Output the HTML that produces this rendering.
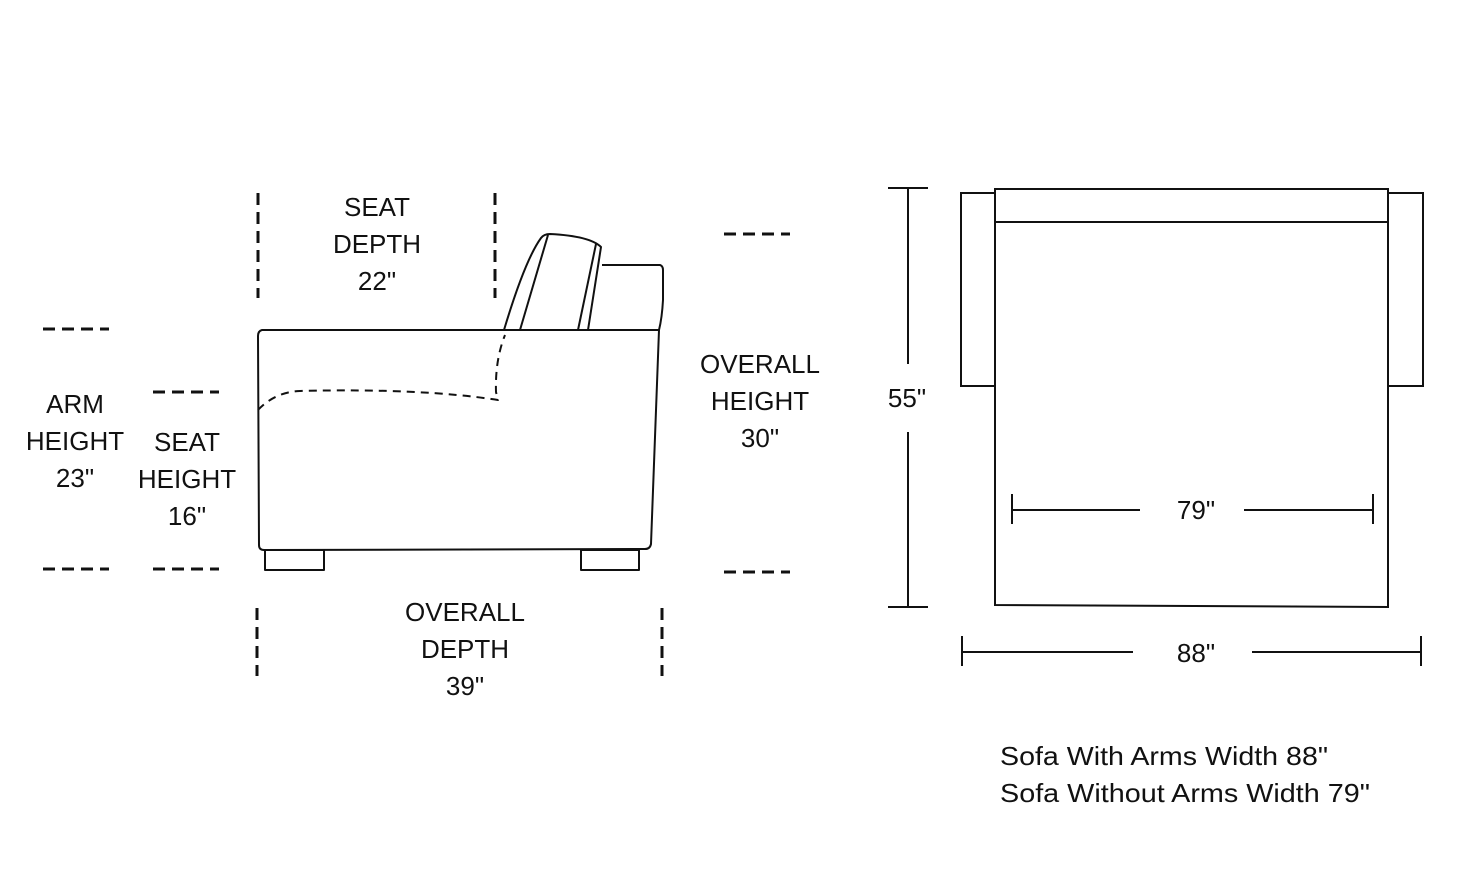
<!DOCTYPE html>
<html><head><meta charset="utf-8"><style>
html,body{margin:0;padding:0;background:#fff;}
svg{display:block;}
text{font-family:"Liberation Sans",sans-serif;font-size:26px;fill:#111;}
</style></head><body>
<svg width="1480" height="880" viewBox="0 0 1480 880" xmlns="http://www.w3.org/2000/svg">
<g fill="none" stroke="#111" stroke-width="2" stroke-linejoin="round">
  <!-- body -->
  <path d="M262,330 L659,330 L651,544 Q650,549 645,549 L264,550 Q259,550 259,545 L258,336 Q258,331 262,330 Z"/>
  <!-- legs -->
  <rect x="265" y="550" width="59" height="20"/>
  <rect x="581" y="550" width="58" height="20"/>
  <!-- back cushion -->
  <path d="M504,330 Q525,260 541,238 Q544,234 550,234 Q590,236 601,247 L588,330"/>
  <path d="M520,330 L548,235"/>
  <path d="M578,330 L596,244"/>
  <path d="M602,265 L660,265 Q663,266 663,270 L663,300 Q662,318 659,330"/>
  <!-- dashed seat -->
  <path d="M258,410 Q275,392 300,391 Q420,388 498,400 L496,392 Q495,360 505,335" stroke-dasharray="8,6"/>
</g>
<g stroke="#111" stroke-width="3" stroke-dasharray="12,7" fill="none">
  <line x1="258" y1="193" x2="258" y2="298"/>
  <line x1="495" y1="193" x2="495" y2="298"/>
  <line x1="257" y1="608" x2="257" y2="676"/>
  <line x1="662" y1="608" x2="662" y2="676"/>
  <line x1="43" y1="329" x2="109" y2="329"/>
  <line x1="43" y1="569" x2="109" y2="569"/>
  <line x1="153" y1="392" x2="219" y2="392"/>
  <line x1="153" y1="569" x2="219" y2="569"/>
  <line x1="724" y1="234" x2="790" y2="234"/>
  <line x1="724" y1="572" x2="790" y2="572"/>
</g>
<g text-anchor="middle">
  <text x="377" y="216">SEAT</text><text x="377" y="253">DEPTH</text><text x="377" y="290">22"</text>
  <text x="75" y="413">ARM</text><text x="75" y="450">HEIGHT</text><text x="75" y="487">23"</text>
  <text x="187" y="451">SEAT</text><text x="187" y="488">HEIGHT</text><text x="187" y="525">16"</text>
  <text x="760" y="373">OVERALL</text><text x="760" y="410">HEIGHT</text><text x="760" y="447">30"</text>
  <text x="465" y="621">OVERALL</text><text x="465" y="658">DEPTH</text><text x="465" y="695">39"</text>
  <text x="907" y="407">55"</text>
  <text x="1196" y="519">79"</text>
  <text x="1196" y="662">88"</text>
</g>
<g fill="none" stroke="#111" stroke-width="2">
  <path d="M995,189 L1388,189 L1388,607 L995,605 Z"/>
  <line x1="995" y1="222" x2="1388" y2="222"/>
  <rect x="961" y="193" width="34" height="193"/>
  <rect x="1388" y="193" width="35" height="193"/>
  <line x1="888" y1="188" x2="928" y2="188"/>
  <line x1="888" y1="607" x2="928" y2="607"/>
  <line x1="908" y1="188" x2="908" y2="364"/>
  <line x1="908" y1="432" x2="908" y2="607"/>
  <line x1="1012" y1="510" x2="1140" y2="510"/>
  <line x1="1244" y1="510" x2="1373" y2="510"/>
  <line x1="1012" y1="494" x2="1012" y2="524"/>
  <line x1="1373" y1="494" x2="1373" y2="524"/>
  <line x1="962" y1="652" x2="1133" y2="652"/>
  <line x1="1252" y1="652" x2="1421" y2="652"/>
  <line x1="962" y1="636" x2="962" y2="666"/>
  <line x1="1421" y1="636" x2="1421" y2="666"/>
</g>
<text x="1000" y="765" textLength="328" lengthAdjust="spacingAndGlyphs">Sofa With Arms Width 88"</text>
<text x="1000" y="802" textLength="370" lengthAdjust="spacingAndGlyphs">Sofa Without Arms Width 79"</text>
</svg>
</body></html>
